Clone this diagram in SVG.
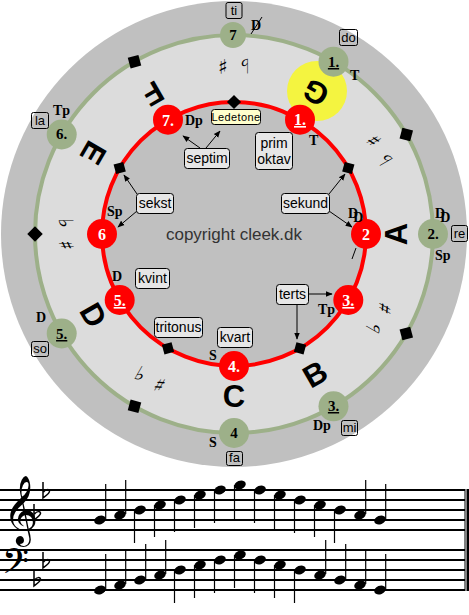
<svg xmlns="http://www.w3.org/2000/svg" width="469" height="615" viewBox="0 0 469 615">
<defs>
<marker id="ah" viewBox="0 0 10 10" refX="9" refY="5" markerWidth="7" markerHeight="7" orient="auto" markerUnits="userSpaceOnUse"><path d="M0,1 L10,5 L0,9 z" fill="#000"/></marker>
<path id="flat" d="M0,0 L0,16 C4,13 7,11 6.5,9 C6,7 3,7 0.5,10" fill="none" stroke="#000" stroke-width="1.5"/>
</defs>
<style>
.fn{font-family:"Liberation Serif","Times New Roman",serif;font-weight:bold;font-size:14px;fill:#000}
.gn{font-family:"Liberation Serif","Times New Roman",serif;font-weight:bold;font-size:15px;fill:#000;text-anchor:middle}
.rn{font-family:"Liberation Serif","Times New Roman",serif;font-weight:bold;font-size:16px;fill:#fff;text-anchor:middle}
.sol{font-family:"Liberation Sans",Arial,sans-serif;font-size:13px;fill:#000;text-anchor:middle}
.lb{font-family:"Liberation Sans",Arial,sans-serif;font-size:14px;fill:#000;text-anchor:middle}
.box{fill:#e6e6e6;stroke:#000;stroke-width:1}
.sbox{fill:none;stroke:#000;stroke-width:1}
.big{font-family:"Liberation Sans",Arial,sans-serif;font-weight:bold;font-size:31px;fill:#000;text-anchor:middle}
.acc{font-family:"DejaVu Sans",sans-serif;font-size:20px;fill:#000;text-anchor:middle}
.gnode{fill:#9db089}
.rnode{fill:#ff0000}
.dia{fill:#000}
.conn{stroke:#000;stroke-width:1;fill:none;marker-end:url(#ah)}
.staff{stroke:#000;stroke-width:2}
.stem{stroke:#000;stroke-width:1.2}
</style>

<!-- background disks -->
<circle cx="234" cy="234" r="233" fill="#c0c0c0"/>
<circle cx="234" cy="234" r="199" fill="#dcdcdc"/>
<circle cx="234" cy="234" r="132" fill="#c0c0c0"/>
<circle cx="317" cy="91" r="30" fill="#f4f440"/>
<circle cx="234" cy="234" r="199" fill="none" stroke="#9db089" stroke-width="4"/>
<circle cx="234" cy="234" r="132" fill="none" stroke="#ff0000" stroke-width="4"/>

<!-- diamonds -->
<g id="diamonds">
<rect class="dia" x="-5" y="-5" width="10" height="10" transform="translate(234,102) rotate(45)"/>
<rect class="dia" x="-5" y="-5" width="10" height="10" transform="translate(348.3,168) rotate(15)"/>
<rect class="dia" x="-5" y="-5" width="10" height="10" transform="translate(300,348.3) rotate(15)"/>
<rect class="dia" x="-5" y="-5" width="10" height="10" transform="translate(168,348.3) rotate(75)"/>
<rect class="dia" x="-5" y="-5" width="10" height="10" transform="translate(119.7,168) rotate(75)"/>
<rect class="dia" x="-5.5" y="-5.5" width="11" height="11" transform="translate(406.3,134.5) rotate(15)"/>
<rect class="dia" x="-5.5" y="-5.5" width="11" height="11" transform="translate(406.3,333.5) rotate(75)"/>
<rect class="dia" x="-5.5" y="-5.5" width="11" height="11" transform="translate(134.5,406.3) rotate(15)"/>
<rect class="dia" x="-5.5" y="-5.5" width="11" height="11" transform="translate(35,234) rotate(45)"/>
<rect class="dia" x="-5.5" y="-5.5" width="11" height="11" transform="translate(134.5,61.7) rotate(75)"/>
</g>

<!-- big letters -->
<g id="letters">
<text class="big" transform="translate(315.5,92.8) rotate(210)" dy="11">G</text>
<text class="big" transform="translate(396,234) rotate(-90)" dy="11">A</text>
<text class="big" transform="translate(315,374) rotate(-30)" dy="11">B</text>
<text class="big" transform="translate(234,396) rotate(0)" dy="11">C</text>
<text class="big" transform="translate(93.7,315) rotate(60)" dy="11">D</text>
<text class="big" transform="translate(93.7,153) rotate(120)" dy="11">E</text>
<text class="big" transform="translate(153,93.7) rotate(150)" dy="11">F</text>
</g>

<!-- accidentals -->
<g id="accidentals">
<g transform="translate(234,66) rotate(-180)"><text class="acc" x="-11" y="7">♭</text><text class="acc" x="11" y="7">♯</text></g>
<g transform="translate(379.5,150) rotate(-120)"><text class="acc" x="-11" y="7">♭</text><text class="acc" x="11" y="7">♯</text></g>
<g transform="translate(379.5,318) rotate(-60)"><text class="acc" x="-11" y="7">♭</text><text class="acc" x="11" y="7">♯</text></g>
<g transform="translate(150,379.5) rotate(30)"><text class="acc" x="-11" y="7">♭</text><text class="acc" x="11" y="7">♯</text></g>
<g transform="translate(66,234) rotate(90)"><text class="acc" x="-11" y="7">♭</text><text class="acc" x="11" y="7">♯</text></g>
<line x1="352" y1="259" x2="356" y2="248" stroke="#000" stroke-width="1"/>
</g>

<!-- connectors -->
<g id="connectors">
<line class="conn" x1="200" y1="148" x2="183" y2="136"/>
<line class="conn" x1="206" y1="148" x2="220" y2="131"/>
<line class="conn" x1="137" y1="194" x2="124" y2="175"/>
<line class="conn" x1="137" y1="211" x2="118" y2="227"/>
<line class="conn" x1="329" y1="194" x2="345" y2="174"/>
<line class="conn" x1="329" y1="211" x2="352" y2="227"/>
<line class="conn" x1="308" y1="294" x2="332" y2="294"/>
<line class="conn" x1="297" y1="304" x2="297" y2="339"/>
</g>

<!-- green nodes -->
<g id="g7"><circle class="gnode" cx="233" cy="35" r="13"/><text class="gn" x="233" y="40">7</text>
<rect class="sbox" x="226" y="2.5" width="16" height="16" rx="2"/><text class="sol" x="234" y="15">ti</text>
<text class="fn" x="251" y="30">D</text><line x1="251" y1="34" x2="262" y2="17" stroke="#000" stroke-width="1"/></g>
<g id="g1"><circle class="gnode" cx="333.5" cy="61.7" r="15"/><text class="gn" x="333.5" y="67" text-decoration="underline">1.</text>
<rect class="sbox" x="339.5" y="29.5" width="18" height="16" rx="2"/><text class="sol" x="348.5" y="42">do</text>
<text class="fn" x="350" y="80">T</text></g>
<g id="g2"><circle class="gnode" cx="433" cy="234" r="15"/><text class="gn" x="433" y="239">2.</text>
<rect class="sbox" x="451.5" y="225.5" width="16" height="16" rx="2"/><text class="sol" x="459.5" y="238">re</text>
<text class="fn" x="435" y="218">D<tspan dx="-5" dy="4">D</tspan></text>
<text class="fn" x="435" y="260">Sp</text></g>
<g id="g3"><circle class="gnode" cx="333.5" cy="406.3" r="15"/><text class="gn" x="333.5" y="411" text-decoration="underline">3.</text>
<rect class="sbox" x="341.5" y="420.5" width="16" height="15" rx="2"/><text class="sol" x="349.5" y="432">mi</text>
<text class="fn" x="313" y="430">Dp</text></g>
<g id="g4"><circle class="gnode" cx="234" cy="433" r="15"/><text class="gn" x="234" y="438">4</text>
<rect class="sbox" x="226.5" y="451.5" width="16" height="14" rx="2"/><text class="sol" x="234.5" y="462">fa</text>
<text class="fn" x="209" y="447">S</text></g>
<g id="g5"><circle class="gnode" cx="61.7" cy="333.5" r="15"/><text class="gn" x="61.7" y="339" text-decoration="underline">5.</text>
<rect class="sbox" x="31.5" y="341.5" width="17" height="15" rx="2"/><text class="sol" x="40" y="353">so</text>
<text class="fn" x="36" y="322">D</text></g>
<g id="g6"><circle class="gnode" cx="61.7" cy="134.5" r="15"/><text class="gn" x="61.7" y="139">6.</text>
<rect class="sbox" x="31.5" y="112.5" width="17" height="16" rx="2"/><text class="sol" x="40" y="125">la</text>
<text class="fn" x="53" y="115">Tp</text></g>

<!-- red nodes -->
<g id="r1"><circle class="rnode" cx="300" cy="119.7" r="15"/><text class="rn" x="300" y="125" text-decoration="underline">1.</text><text class="fn" x="309" y="145">T</text></g>
<g id="r2"><circle class="rnode" cx="366" cy="234" r="15"/><text class="rn" x="366" y="240">2</text><text class="fn" x="348" y="218">D<tspan dx="-5" dy="4">D</tspan></text></g>
<g id="r3"><circle class="rnode" cx="348.3" cy="300" r="15"/><text class="rn" x="348.3" y="306" text-decoration="underline">3.</text><text class="fn" x="318" y="314">Tp</text></g>
<g id="r4"><circle class="rnode" cx="234" cy="366" r="15"/><text class="rn" x="234" y="372">4.</text><text class="fn" x="209" y="360">S</text></g>
<g id="r5"><circle class="rnode" cx="119.7" cy="300" r="15"/><text class="rn" x="119.7" y="306" text-decoration="underline">5.</text><text class="fn" x="112" y="281">D</text></g>
<g id="r6"><circle class="rnode" cx="102" cy="234" r="15"/><text class="rn" x="102" y="240">6</text><text class="fn" x="107" y="216">Sp</text></g>
<g id="r7"><circle class="rnode" cx="168" cy="119.7" r="15"/><text class="rn" x="168" y="126">7.</text><text class="fn" x="185" y="125">Dp</text></g>

<!-- interval labels -->
<g id="ledetone"><rect x="211.5" y="109.5" width="49" height="15" rx="3" fill="#ffffcc" stroke="#000"/><text class="lb" x="236" y="121" style="font-size:11px;letter-spacing:0.4px">Ledetone</text></g>
<g id="septim"><rect class="box" x="184.5" y="148.5" width="45" height="20" rx="3"/><text class="lb" x="207" y="163">septim</text></g>
<g id="primoktav"><rect class="box" x="255.5" y="132.5" width="37" height="37" rx="3"/><text class="lb" x="274" y="148">prim</text><text class="lb" x="274" y="164">oktav</text></g>
<g id="sekst"><rect class="box" x="136.5" y="193.5" width="37" height="20" rx="3"/><text class="lb" x="155" y="208">sekst</text></g>
<g id="sekund"><rect class="box" x="281.5" y="193.5" width="48" height="20" rx="3"/><text class="lb" x="305.5" y="208">sekund</text></g>
<g id="kvint"><rect class="box" x="135.5" y="268.5" width="34" height="20" rx="3"/><text class="lb" x="152.5" y="283">kvint</text></g>
<g id="tritonus"><rect class="box" x="154.5" y="317.5" width="48" height="20" rx="3"/><text class="lb" x="178.5" y="332">tritonus</text></g>
<g id="kvart"><rect class="box" x="217.5" y="327.5" width="35" height="20" rx="3"/><text class="lb" x="235" y="342">kvart</text></g>
<g id="terts"><rect class="box" x="276.5" y="284.5" width="32" height="20" rx="3"/><text class="lb" x="292.5" y="299">terts</text></g>

<text x="234" y="240" style="font-family:'Liberation Sans',Arial,sans-serif;font-size:17px;fill:#333;text-anchor:middle">copyright cleek.dk</text>

<!-- staff -->
<g id="staves">
<line class="staff" x1="0" y1="490" x2="465" y2="490"/>
<line class="staff" x1="0" y1="500" x2="465" y2="500"/>
<line class="staff" x1="0" y1="510" x2="465" y2="510"/>
<line class="staff" x1="0" y1="520" x2="465" y2="520"/>
<line class="staff" x1="0" y1="530" x2="465" y2="530"/>
<line class="staff" x1="0" y1="550" x2="465" y2="550"/>
<line class="staff" x1="0" y1="560" x2="465" y2="560"/>
<line class="staff" x1="0" y1="570" x2="465" y2="570"/>
<line class="staff" x1="0" y1="580" x2="465" y2="580"/>
<line class="staff" x1="0" y1="590" x2="465" y2="590"/>
<line x1="465" y1="489" x2="465" y2="591" stroke="#000" stroke-width="1"/>
<line x1="468" y1="489" x2="468" y2="591" stroke="#000" stroke-width="3"/>
<text x="3" y="530" style="font-family:'DejaVu Sans',sans-serif;font-size:60px;fill:#000">𝄞</text>
<text x="2" y="580" style="font-family:'DejaVu Sans',sans-serif;font-size:42px;fill:#000">𝄢</text>
<use href="#flat" x="34" y="504"/>
<use href="#flat" x="43" y="482"/>
<use href="#flat" x="43" y="552"/>
<use href="#flat" x="34" y="570"/>
</g>
<g id="notes">
<g fill="#000">
<ellipse cx="100" cy="520" rx="6" ry="4.2" transform="rotate(-22 100 520)"/>
<ellipse cx="120" cy="515" rx="6" ry="4.2" transform="rotate(-22 120 515)"/>
<ellipse cx="140" cy="510" rx="6" ry="4.2" transform="rotate(-22 140 510)"/>
<ellipse cx="160" cy="505" rx="6" ry="4.2" transform="rotate(-22 160 505)"/>
<ellipse cx="180" cy="500" rx="6" ry="4.2" transform="rotate(-22 180 500)"/>
<ellipse cx="200" cy="495" rx="6" ry="4.2" transform="rotate(-22 200 495)"/>
<ellipse cx="220" cy="490" rx="6" ry="4.2" transform="rotate(-22 220 490)"/>
<ellipse cx="240" cy="485" rx="6" ry="4.2" transform="rotate(-22 240 485)"/>
<ellipse cx="260" cy="490" rx="6" ry="4.2" transform="rotate(-22 260 490)"/>
<ellipse cx="280" cy="495" rx="6" ry="4.2" transform="rotate(-22 280 495)"/>
<ellipse cx="300" cy="500" rx="6" ry="4.2" transform="rotate(-22 300 500)"/>
<ellipse cx="320" cy="505" rx="6" ry="4.2" transform="rotate(-22 320 505)"/>
<ellipse cx="340" cy="510" rx="6" ry="4.2" transform="rotate(-22 340 510)"/>
<ellipse cx="360" cy="515" rx="6" ry="4.2" transform="rotate(-22 360 515)"/>
<ellipse cx="380" cy="520" rx="6" ry="4.2" transform="rotate(-22 380 520)"/>
<ellipse cx="100" cy="590" rx="6" ry="4.2" transform="rotate(-22 100 590)"/>
<ellipse cx="120" cy="585" rx="6" ry="4.2" transform="rotate(-22 120 585)"/>
<ellipse cx="140" cy="580" rx="6" ry="4.2" transform="rotate(-22 140 580)"/>
<ellipse cx="160" cy="575" rx="6" ry="4.2" transform="rotate(-22 160 575)"/>
<ellipse cx="180" cy="570" rx="6" ry="4.2" transform="rotate(-22 180 570)"/>
<ellipse cx="200" cy="565" rx="6" ry="4.2" transform="rotate(-22 200 565)"/>
<ellipse cx="220" cy="560" rx="6" ry="4.2" transform="rotate(-22 220 560)"/>
<ellipse cx="240" cy="555" rx="6" ry="4.2" transform="rotate(-22 240 555)"/>
<ellipse cx="260" cy="560" rx="6" ry="4.2" transform="rotate(-22 260 560)"/>
<ellipse cx="280" cy="565" rx="6" ry="4.2" transform="rotate(-22 280 565)"/>
<ellipse cx="300" cy="570" rx="6" ry="4.2" transform="rotate(-22 300 570)"/>
<ellipse cx="320" cy="575" rx="6" ry="4.2" transform="rotate(-22 320 575)"/>
<ellipse cx="340" cy="580" rx="6" ry="4.2" transform="rotate(-22 340 580)"/>
<ellipse cx="360" cy="585" rx="6" ry="4.2" transform="rotate(-22 360 585)"/>
<ellipse cx="380" cy="590" rx="6" ry="4.2" transform="rotate(-22 380 590)"/>
</g>
<g class="stem">
<line x1="105.7" y1="484" x2="105.7" y2="519"/>
<line x1="125.7" y1="480" x2="125.7" y2="514"/>
<line x1="134.5" y1="510" x2="134.5" y2="543"/>
<line x1="154.5" y1="505" x2="154.5" y2="537"/>
<line x1="174.5" y1="500" x2="174.5" y2="532"/>
<line x1="194.5" y1="495" x2="194.5" y2="528"/>
<line x1="214.5" y1="490" x2="214.5" y2="523"/>
<line x1="234.5" y1="485" x2="234.5" y2="520"/>
<line x1="254.5" y1="490" x2="254.5" y2="523"/>
<line x1="274.5" y1="495" x2="274.5" y2="529"/>
<line x1="294.5" y1="500" x2="294.5" y2="533"/>
<line x1="314.5" y1="505" x2="314.5" y2="537"/>
<line x1="334.5" y1="510" x2="334.5" y2="543"/>
<line x1="365.7" y1="480" x2="365.7" y2="514"/>
<line x1="385.7" y1="484" x2="385.7" y2="519"/>
<line x1="105.7" y1="554" x2="105.7" y2="589"/>
<line x1="125.7" y1="550" x2="125.7" y2="584"/>
<line x1="145.7" y1="544" x2="145.7" y2="579"/>
<line x1="165.7" y1="540" x2="165.7" y2="574"/>
<line x1="174.5" y1="570" x2="174.5" y2="603"/>
<line x1="194.5" y1="565" x2="194.5" y2="598"/>
<line x1="214.5" y1="560" x2="214.5" y2="593"/>
<line x1="234.5" y1="555" x2="234.5" y2="588"/>
<line x1="254.5" y1="560" x2="254.5" y2="593"/>
<line x1="274.5" y1="565" x2="274.5" y2="598"/>
<line x1="294.5" y1="570" x2="294.5" y2="603"/>
<line x1="325.7" y1="540" x2="325.7" y2="574"/>
<line x1="345.7" y1="544" x2="345.7" y2="579"/>
<line x1="365.7" y1="550" x2="365.7" y2="584"/>
<line x1="385.7" y1="554" x2="385.7" y2="589"/>
</g>
</g>
</svg>
